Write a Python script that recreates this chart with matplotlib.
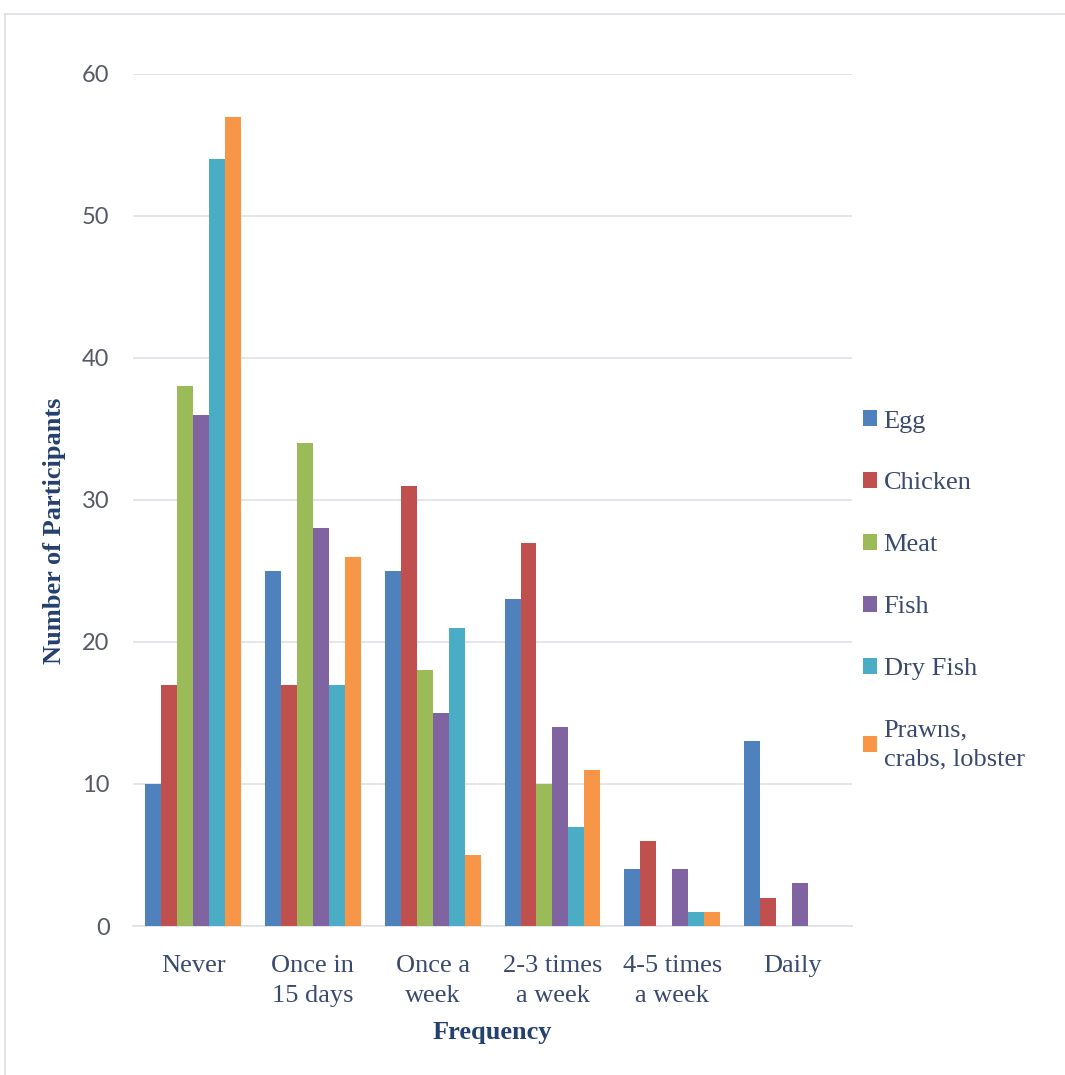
import numpy as np
import matplotlib
matplotlib.use("Agg")
import matplotlib.pyplot as plt
from matplotlib.lines import Line2D

# Consumption frequency per food item
categories = ["Never", "Once in\n15 days", "Once a\nweek", "2-3 times\na week", "4-5 times\na week", "Daily"]
series_names = ["Egg", "Chicken", "Meat", "Fish", "Dry Fish", "Prawns,\ncrabs, lobster"]
egg = [10, 25, 25, 23, 4, 13]
chicken = [17, 17, 31, 27, 6, 2]
meat = [38, 34, 18, 10, 0, 0]
fish = [36, 28, 15, 14, 4, 3]
dry_fish = [54, 17, 21, 7, 1, 0]
prawns = [57, 26, 5, 11, 1, 0]
values = [egg, chicken, meat, fish, dry_fish, prawns]
colors = ["#4f81bd", "#c0504d", "#9bbb59", "#8064a2", "#4bacc6", "#f79646"]

text_color = "#3a4a6e"
title_color = "#24406e"
serif = ["Liberation Serif", "DejaVu Serif"]

fig = plt.figure(figsize=(10.65, 10.75), dpi=100)
ax = fig.add_axes([0.125, 0.1386, 0.675, 0.7926])

x = np.arange(len(categories))
width = 0.8 / len(series_names)
for i, (name, vals, c) in enumerate(zip(series_names, values, colors)):
    offset = (i - (len(series_names) - 1) / 2) * width
    ax.bar(x + offset, vals, width, color=c, label=name, zorder=3)

ax.set_xlim(-0.5, len(categories) - 0.5)
ax.set_ylim(0, 60)
ax.set_yticks(range(0, 61, 10))
ax.yaxis.grid(True, color="#dde1e6", linewidth=1.2, zorder=0)
for s in ["top", "right", "left"]:
    ax.spines[s].set_visible(False)
ax.spines["bottom"].set_color("#dde1e6")
ax.spines["bottom"].set_linewidth(1.2)
ax.tick_params(axis="both", length=0)
ax.tick_params(axis="y", labelsize=17, labelcolor="#555a66", pad=17)
ax.set_yticklabels([str(v) for v in range(0, 61, 10)], family=["Lato", "DejaVu Sans"])
ax.set_xticks(x)
ax.set_xticklabels(categories, family=serif, fontsize=19, color=text_color, linespacing=1.45)
ax.tick_params(axis="x", pad=21)

ax.set_xlabel("Frequency", family=serif, fontsize=19, fontweight="bold", color=title_color, labelpad=10)
ax.set_ylabel("Number of Participants", family=serif, fontsize=19, fontweight="bold", color=title_color)
ax.yaxis.set_label_coords(-0.094, 0.464)

leg = ax.legend(loc="center left", bbox_to_anchor=(1.0, 0.394), frameon=False,
                prop={"family": serif, "size": 19}, labelcolor=text_color,
                handlelength=0.55, handleheight=0.55, handletextpad=0.25, labelspacing=1.5,
                borderaxespad=0.0)
for t in leg.get_texts():
    t.set_linespacing(1.4)

# thin frame along the top and left edges
fig.add_artist(Line2D([5 / 1065, 1.0], [1 - 14 / 1075] * 2, transform=fig.transFigure, color="#dce0e6", linewidth=1.2))
fig.add_artist(Line2D([5 / 1065] * 2, [0.0, 1 - 14 / 1075], transform=fig.transFigure, color="#dce0e6", linewidth=1.2))

fig.savefig("out.png", dpi=100)
